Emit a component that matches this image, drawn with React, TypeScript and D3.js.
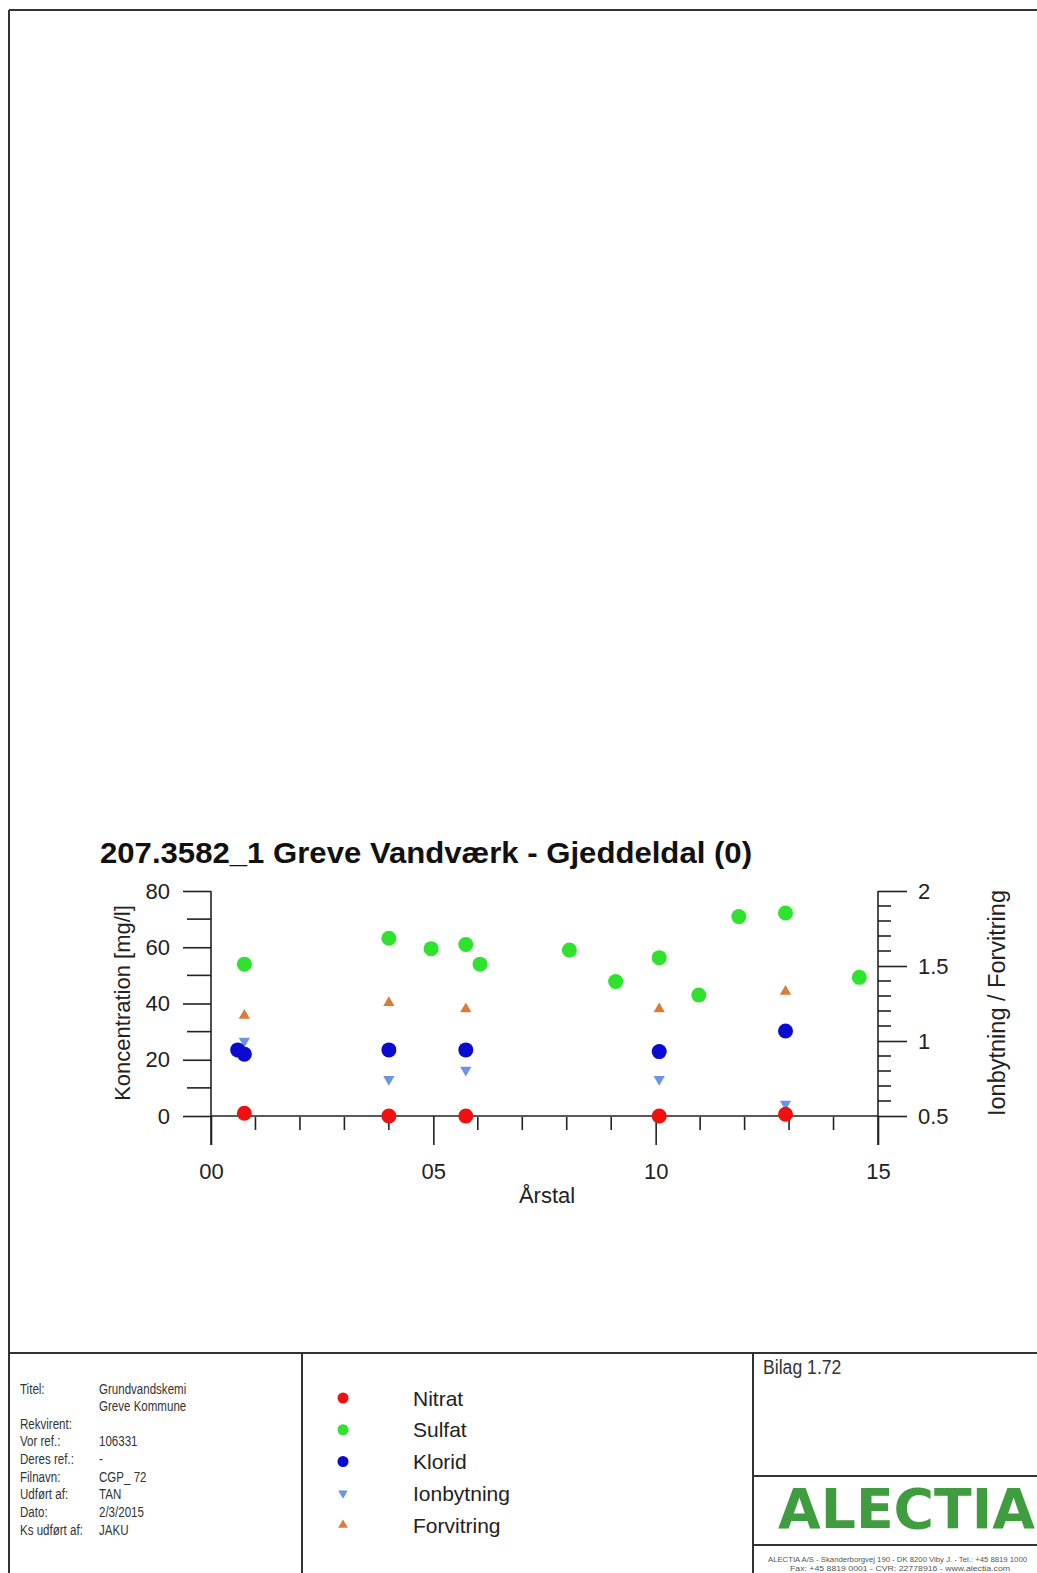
import React, { useEffect, useRef } from 'react';
import * as d3 from 'd3';

// data (x = decimal year)
const nitratYears = [2000.75, 2004.0, 2005.73, 2010.08, 2012.92];
const nitratValues = [1, 0, 0, 0, 0.6];

const sulfatYears = [2000.75, 2004.0, 2004.95, 2005.73, 2006.05, 2008.06, 2009.1, 2010.08, 2010.97, 2011.87, 2012.92, 2014.58];
const sulfatValues = [54, 63.2, 59.5, 61, 54, 59, 47.8, 56.3, 43, 70.9, 72.2, 49.3];

const kloridYears = [2000.6, 2000.75, 2004.0, 2005.73, 2010.08, 2012.92];
const kloridValues = [23.5, 22, 23.5, 23.5, 22.9, 30.2];

const ionYears = [2000.75, 2004.0, 2005.73, 2010.08, 2012.92];
const ionValues = [1.0, 0.745, 0.807, 0.745, 0.58];

const forvYears = [2000.75, 2004.0, 2005.73, 2010.08, 2012.92];
const forvValues = [1.17, 1.255, 1.213, 1.213, 1.33];

const leftTicks = [0, 20, 40, 60, 80];
const rightTicks = [0.5, 1, 1.5, 2];
const yearTicks = [2000, 2005, 2010, 2015];

const legendLabels = ['Nitrat', 'Sulfat', 'Klorid', 'Ionbytning', 'Forvitring'];
const infoLabels = ['Titel:', '', 'Rekvirent:', 'Vor ref.:', 'Deres ref.:', 'Filnavn:', 'Udført af:', 'Dato:', 'Ks udført af:'];
const infoValues = ['Grundvandskemi', 'Greve Kommune', '', '106331', '-', 'CGP_ 72', 'TAN', '2/3/2015', 'JAKU'];

const colors = {
  nitrat: '#f01010',
  sulfat: '#2ee22e',
  klorid: '#0a0ad0',
  ion: '#6c93e6',
  forv: '#dc7a36',
};

const App: React.FC = () => {
  const ref = useRef<SVGSVGElement>(null);

  useEffect(() => {
    const svg = d3.select(ref.current);
    svg.selectAll('*').remove();

    const ink = '#222';
    const font = "'Liberation Sans', Arial, sans-serif";

    const x = d3.scaleLinear().domain([2000, 2015]).range([211, 878]);
    const yL = d3.scaleLinear().domain([0, 80]).range([1116, 891]);
    const yR = d3.scaleLinear().domain([0.5, 2]).range([1116, 891]);

    // page frame
    const frame = svg.append('g').attr('stroke', '#333').attr('stroke-width', 2);
    const seg = (x1: number, y1: number, x2: number, y2: number) =>
      frame.append('line').attr('x1', x1).attr('y1', y1).attr('x2', x2).attr('y2', y2);
    seg(9, 10, 1037, 10);
    seg(9, 10, 9, 1573);
    seg(9, 1353, 1037, 1353);
    seg(302, 1353, 302, 1573);
    seg(753, 1353, 753, 1573);
    seg(753, 1476, 1037, 1476);
    seg(753, 1545, 1037, 1545);

    // title
    svg.append('text')
      .attr('x', 100).attr('y', 863)
      .attr('font-family', font).attr('font-weight', 'bold').attr('font-size', 30)
      .attr('textLength', 652).attr('lengthAdjust', 'spacingAndGlyphs')
      .attr('fill', '#111')
      .text('207.3582_1 Greve Vandværk - Gjeddeldal (0)');

    const styleAxis = (g: any) => {
      g.select('.domain').remove();
      g.selectAll('line').attr('stroke', ink).attr('stroke-width', 1.6);
      g.selectAll('text').attr('font-size', 22).attr('font-family', font).attr('fill', ink);
    };

    svg.append('g').attr('transform', 'translate(211,0)')
      .call(d3.axisLeft(yL).tickValues(leftTicks).tickSize(28).tickPadding(13))
      .call(styleAxis);
    svg.append('g').attr('transform', 'translate(878,0)')
      .call(d3.axisRight(yR).tickValues(rightTicks).tickSize(29).tickPadding(11).tickFormat(d3.format('')))
      .call(styleAxis);
    svg.append('g').attr('transform', 'translate(0,1116)')
      .call(d3.axisBottom(x).tickValues(yearTicks).tickSize(29).tickPadding(18)
        .tickFormat((d: any) => d3.format('02d')(d - 2000)))
      .call(styleAxis);

    // minor ticks
    const minor = svg.append('g').attr('stroke', ink).attr('stroke-width', 1.6);
    yL.ticks(8).filter(v => !leftTicks.includes(v)).forEach(v => {
      minor.append('line').attr('x1', 187).attr('x2', 211).attr('y1', yL(v)).attr('y2', yL(v));
    });
    yR.ticks(15).filter(v => !rightTicks.some(t => Math.abs(t - v) < 1e-6)).forEach(v => {
      minor.append('line').attr('x1', 878).attr('x2', 891).attr('y1', yR(v)).attr('y2', yR(v));
    });
    x.ticks(15).filter(v => !yearTicks.includes(v)).forEach(v => {
      minor.append('line').attr('x1', x(v)).attr('x2', x(v)).attr('y1', 1117).attr('y2', 1130);
    });

    // axis lines
    minor.append('line').attr('x1', x(2000)).attr('x2', x(2000)).attr('y1', yL(80)).attr('y2', yL(0) + 29);
    minor.append('line').attr('x1', x(2015)).attr('x2', x(2015)).attr('y1', yR(2)).attr('y2', yR(0.5) + 29);
    minor.append('line').attr('x1', x(2000)).attr('x2', x(2015)).attr('y1', yL(0)).attr('y2', yL(0));

    // axis titles
    svg.append('text')
      .attr('transform', 'translate(122,1003) rotate(-90)')
      .attr('text-anchor', 'middle').attr('dominant-baseline', 'central')
      .attr('font-family', font).attr('font-size', 22).attr('fill', ink)
      .text('Koncentration [mg/l]');
    svg.append('text')
      .attr('transform', 'translate(997,1003) rotate(-90)')
      .attr('text-anchor', 'middle').attr('dominant-baseline', 'central')
      .attr('font-family', font).attr('font-size', 23.5).attr('fill', ink)
      .text('Ionbytning / Forvitring');
    svg.append('text')
      .attr('x', 547).attr('y', 1203)
      .attr('text-anchor', 'middle')
      .attr('font-family', font).attr('font-size', 22).attr('fill', ink)
      .text('Årstal');

    // marks
    const marks = svg.append('g');
    const circles = (xs: number[], vs: number[], color: string) => {
      marks.append('g').selectAll('circle').data(xs).enter().append('circle')
        .attr('cx', d => x(d)).attr('cy', (_, i) => yL(vs[i]))
        .attr('r', 7.5).attr('fill', color);
    };
    const tri = d3.symbol().type(d3.symbolTriangle).size(55);
    const triangles = (xs: number[], vs: number[], color: string, down: boolean) => {
      marks.append('g').selectAll('path').data(xs).enter().append('path')
        .attr('d', tri as any)
        .attr('transform', (d, i) => `translate(${x(d)},${yR(vs[i])})${down ? ' rotate(180)' : ''}`)
        .attr('fill', color);
    };
    circles(sulfatYears, sulfatValues, colors.sulfat);
    triangles(forvYears, forvValues, colors.forv, false);
    triangles(ionYears, ionValues, colors.ion, true);
    circles(kloridYears, kloridValues, colors.klorid);
    circles(nitratYears, nitratValues, colors.nitrat);

    // legend
    const legendColors = [colors.nitrat, colors.sulfat, colors.klorid, colors.ion, colors.forv];
    const legendY = d3.scalePoint().domain(legendLabels).range([1398, 1525]);
    const lg = svg.append('g');
    const legTri = d3.symbol().type(d3.symbolTriangle).size(40);
    legendLabels.forEach((name, i) => {
      const cy = legendY(name)!;
      if (i < 3) {
        lg.append('circle').attr('cx', 343).attr('cy', cy).attr('r', 5.5).attr('fill', legendColors[i]);
      } else {
        lg.append('path').attr('d', legTri() as string)
          .attr('transform', `translate(343,${cy})${i === 3 ? ' rotate(180)' : ''}`)
          .attr('fill', legendColors[i]);
      }
      lg.append('text').attr('x', 413).attr('y', cy + 7.5)
        .attr('font-family', font).attr('font-size', 21).attr('fill', ink)
        .text(name);
    });

    // info block (condensed lettering)
    const infoY = d3.scalePoint().domain(d3.range(infoLabels.length).map(String)).range([1388, 1529]);
    const info = svg.append('g').attr('font-family', font).attr('font-size', 15).attr('fill', '#333');
    infoLabels.forEach((lab, i) => {
      const cy = infoY(String(i))!;
      info.append('text').attr('transform', `translate(20,${cy + 5.5}) scale(0.77,1)`).text(lab);
      info.append('text').attr('transform', `translate(99,${cy + 5.5}) scale(0.77,1)`).text(infoValues[i]);
    });

    svg.append('text')
      .attr('transform', 'translate(763,1374) scale(0.84,1)')
      .attr('font-family', font).attr('font-size', 21).attr('fill', '#333')
      .text('Bilag 1.72');

    // logo
    svg.append('text')
      .attr('x', 778).attr('y', 1528)
      .attr('font-family', "'DejaVu Sans', sans-serif").attr('font-weight', 'bold').attr('font-size', 55)
      .attr('textLength', 257).attr('lengthAdjust', 'spacingAndGlyphs')
      .attr('fill', '#3f9c3f')
      .text('ALECTIA');

    // footer
    svg.append('text')
      .attr('x', 768).attr('y', 1562)
      .attr('font-family', font).attr('font-size', 7).attr('fill', '#555')
      .attr('textLength', 259).attr('lengthAdjust', 'spacingAndGlyphs')
      .text('ALECTIA A/S - Skanderborgvej 190 - DK 8200 Viby J. - Tel.: +45 8819 1000');
    svg.append('text')
      .attr('x', 790).attr('y', 1571)
      .attr('font-family', font).attr('font-size', 7).attr('fill', '#555')
      .attr('textLength', 220).attr('lengthAdjust', 'spacingAndGlyphs')
      .text('Fax: +45 8819 0001 - CVR: 22778916 - www.alectia.com');
  }, []);

  return (
    <svg
      ref={ref}
      width={1037}
      height={1573}
      style={{ position: 'absolute', left: 0, top: 0, background: '#fff' }}
    />
  );
};

export default App;
